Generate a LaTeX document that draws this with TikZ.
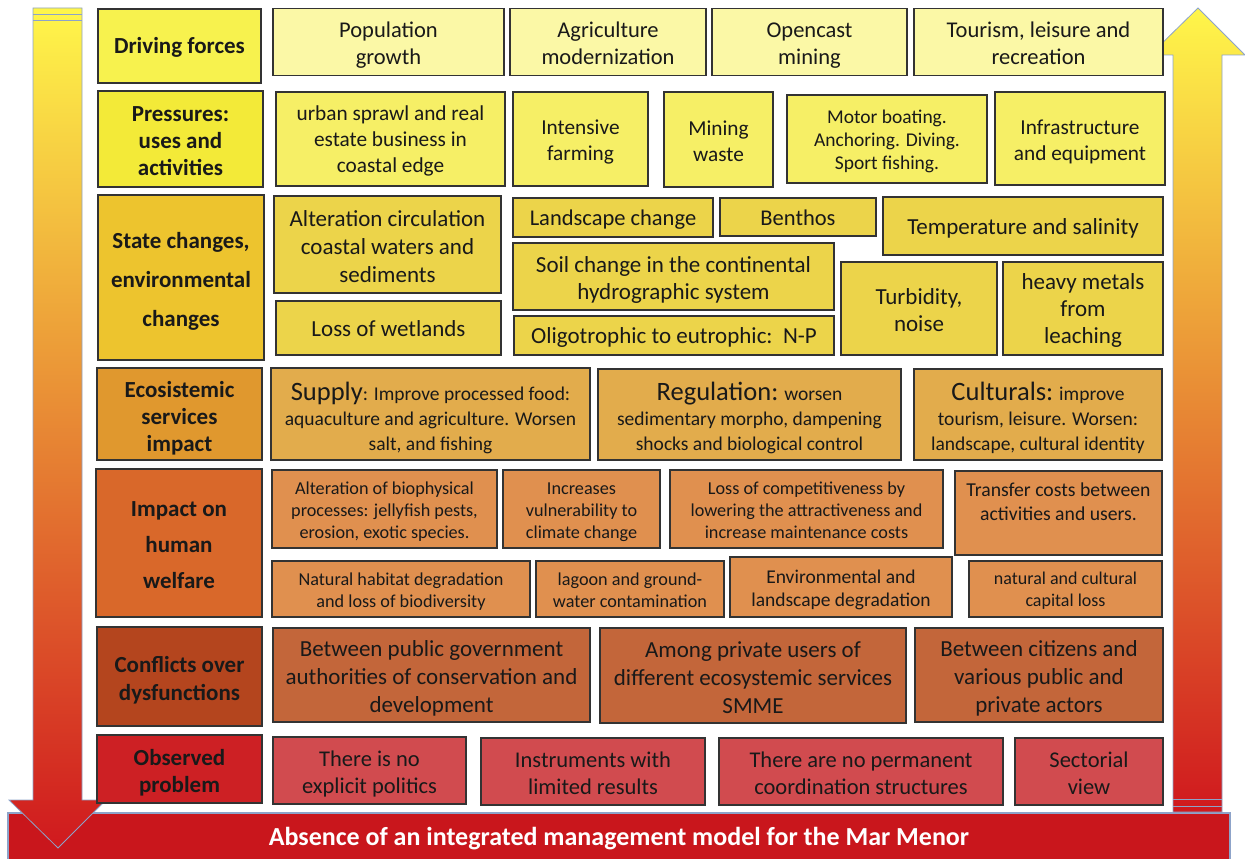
\documentclass[tikz,border=0pt]{standalone}
\usepackage{fontspec}
\setmainfont{Carlito}
\newcommand{\tp}[1][1.05em]{\rule{0pt}{#1}}
\definecolor{drvL}{HTML}{F7F24E}
\definecolor{drvC}{HTML}{FBF8A6}
\definecolor{prsL}{HTML}{F3EA38}
\definecolor{prsC}{HTML}{F6EF66}
\definecolor{staL}{HTML}{EDC42E}
\definecolor{staC}{HTML}{ECD44A}
\definecolor{ecoL}{HTML}{E0982E}
\definecolor{ecoC}{HTML}{E2AC4C}
\definecolor{impL}{HTML}{D9682A}
\definecolor{impC}{HTML}{E0904F}
\definecolor{cnfL}{HTML}{B4451E}
\definecolor{cnfC}{HTML}{C3663A}
\definecolor{obsL}{HTML}{CD2024}
\definecolor{obsC}{HTML}{D14B4F}
\definecolor{barR}{HTML}{C9161C}
\definecolor{arrY}{HTML}{FFF64A}
\definecolor{arrO}{HTML}{E48A2E}
\definecolor{arrR}{HTML}{D0191E}
\definecolor{arrE}{HTML}{8DA3C9}
\begin{document}
\begin{tikzpicture}[x=1pt,y=-1pt,
  every node/.style={draw=black!80,line width=1.2pt,align=center,inner sep=1pt,text=black!90,text depth=5pt},
  one/.style={text height=21pt},
  lab/.style={font=\bfseries\fontsize{23}{27}\selectfont},
  big/.style={font=\fontsize{22.5}{27}\selectfont},
  mid/.style={font=\fontsize{19.5}{25}\selectfont},
  small/.style={font=\fontsize{18.2}{22}\selectfont}]
\useasboundingbox (0,0) rectangle (1245,859);
% bottom bar
\node[draw=arrE,fill=barR,minimum width=1222,minimum height=50,text=white,font=\bfseries\fontsize{26}{30}\selectfont,text height=20pt,text depth=5.5pt] (bar) at (619,838) {Absence of an integrated management model for the Mar Menor};
% arrows
\shadedraw[top color=arrY,middle color=arrO,bottom color=arrR,draw=arrE,line width=0.8pt]
  (33,8) -- (82,8) -- (82,800) -- (106,800) -- (58,848) -- (9,800) -- (33,800) -- cycle;
\draw[arrE,line width=0.8pt] (33,14) -- (82,14);
\draw[arrE,line width=0.8pt] (33,20) -- (82,20);
\shadedraw[top color=arrY,middle color=arrO,bottom color=arrR,draw=arrE,line width=0.8pt]
  (1173,812) -- (1173,55) -- (1150,55) -- (1198,8) -- (1245,55) -- (1222,55) -- (1222,812) -- cycle;
\draw[arrE,line width=0.8pt] (1173,799) -- (1222,799);
\draw[arrE,line width=0.8pt] (1173,806) -- (1222,806);
% row labels
\node[lab,one,fill=drvL,minimum width=163,minimum height=74] (l1) at (179.5,46) {Driving forces};
\node[lab,fill=prsL,minimum width=165,minimum height=96] (l2) at (180.5,139) {\tp Pressures:\\uses and\\activities};
\node[lab,fill=staL,minimum width=166,minimum height=165,font=\bfseries\fontsize{23}{39}\selectfont] (l3) at (181,277.5) {\tp State changes,\\environmental\\changes};
\node[lab,fill=ecoL,minimum width=165,minimum height=92] (l4) at (179.5,414) {\tp[1.15em]Ecosistemic\\services\\impact};
\node[lab,fill=impL,minimum width=166,minimum height=148,font=\bfseries\fontsize{23}{36}\selectfont] (l5) at (179,543) {\tp Impact on\\human\\welfare};
\node[lab,fill=cnfL,minimum width=165,minimum height=99,font=\bfseries\fontsize{23}{28}\selectfont] (l6) at (179.5,676.5) {\tp Conflicts over\\dysfunctions};
\node[lab,fill=obsL,minimum width=165,minimum height=68] (l7) at (179.5,769) {\tp Observed\\problem};
% driving forces
\node[big,fill=drvC,minimum width=231,minimum height=67] (pop) at (388.5,42) {\tp Population\\growth};
\node[big,fill=drvC,minimum width=196,minimum height=67] (agr) at (608,42) {\tp Agriculture\\modernization};
\node[big,fill=drvC,minimum width=195,minimum height=67] (opc) at (809.5,42) {\tp Opencast\\mining};
\node[big,fill=drvC,minimum width=249,minimum height=67] (tou) at (1038.5,42) {\tp Tourism, leisure and\\recreation};
% pressures
\node[big,fill=prsC,minimum width=229,minimum height=94,font=\fontsize{21.3}{26}\selectfont] (urb) at (390.5,139) {\tp[0.95em]urban sprawl and real\\estate business in\\coastal edge};
\node[big,fill=prsC,minimum width=135,minimum height=94,font=\fontsize{21.3}{26}\selectfont] (int) at (580.5,139) {\tp Intensive\\farming};
\node[big,fill=prsC,minimum width=109,minimum height=95,font=\fontsize{21.3}{26}\selectfont] (mwa) at (718.5,139.5) {\tp Mining\\waste};
\node[mid,fill=prsC,minimum width=200,minimum height=88,font=\fontsize{19.5}{23}\selectfont] (mot) at (887,139) {\tp Motor boating.\\Anchoring. Diving.\\Sport fishing.};
\node[big,fill=prsC,minimum width=170,minimum height=93,font=\fontsize{21.3}{26}\selectfont] (inf) at (1080,138.5) {\tp Infrastructure\\and equipment};
% state changes
\node[big,fill=staC,minimum width=227,minimum height=97,font=\fontsize{23}{28}\selectfont] (alt) at (387.5,244.5) {\tp Alteration circulation\\coastal waters and\\sediments};
\node[big,one,fill=staC,minimum width=225,minimum height=54,font=\fontsize{23}{27}\selectfont] (wet) at (388.5,328) {Loss of wetlands};
\node[big,one,fill=staC,minimum width=200,minimum height=39,font=\fontsize{22.5}{27}\selectfont] (lsc) at (613,217.5) {Landscape change};
\node[big,one,fill=staC,minimum width=156,minimum height=38,font=\fontsize{22.5}{27}\selectfont] (ben) at (798,217) {Benthos};
\node[big,fill=staC,minimum width=321,minimum height=67,font=\fontsize{23}{27}\selectfont] (soi) at (673.5,276.5) {\tp Soil change in the continental\\hydrographic system};
\node[big,one,fill=staC,minimum width=320,minimum height=39,font=\fontsize{23}{27}\selectfont] (oli) at (674,335.5) {Oligotrophic to eutrophic:~~N-P};
\node[big,one,fill=staC,minimum width=280,minimum height=58,font=\fontsize{23}{27}\selectfont] (tem) at (1023,226) {Temperature and salinity};
\node[big,fill=staC,minimum width=156,minimum height=93,font=\fontsize{23}{27}\selectfont] (tur) at (919,308.5) {\tp Turbidity,\\noise};
\node[big,fill=staC,minimum width=160,minimum height=93,font=\fontsize{23}{27}\selectfont] (hvy) at (1083,308.5) {\tp[0.95em]heavy metals\\from\\leaching};
% ecosystem services
\node[mid,fill=ecoC,minimum width=319,minimum height=92] (sup) at (430.5,414) {\tp[27pt]{\fontsize{26.5}{25}\selectfont Supply}: Improve processed food:\\aquaculture and agriculture. Worsen\\salt, and fishing};
\node[mid,fill=ecoC,minimum width=303,minimum height=91] (reg) at (749.5,414.5) {\tp[27pt]{\fontsize{26.5}{25}\selectfont Regulation:} worsen\\sedimentary morpho, dampening\\shocks and biological control};
\node[mid,fill=ecoC,minimum width=248,minimum height=91] (cul) at (1038,414.5) {\tp[27pt]{\fontsize{26.5}{25}\selectfont Culturals:} improve\\tourism, leisure. Worsen:\\landscape, cultural identity};
% human welfare
\node[small,fill=impC,minimum width=225,minimum height=78] (bio) at (384.5,509) {\tp Alteration of biophysical\\processes: jellyfish pests,\\erosion, exotic species.};
\node[small,fill=impC,minimum width=157,minimum height=78] (vul) at (581.5,509) {\tp Increases\\vulnerability to\\climate change};
\node[small,fill=impC,minimum width=273,minimum height=78] (cmp) at (806.5,509) {\tp Loss of competitiveness by\\lowering the attractiveness and\\increase maintenance costs};
\node[mid,fill=impC,minimum width=207,minimum height=84,font=\fontsize{19.7}{24}\selectfont] (trf) at (1058.5,513) {\tp Transfer costs between\\activities and users.\\~};
\node[small,fill=impC,minimum width=258,minimum height=56] (nat) at (401,589) {\tp Natural habitat degradation\\and loss of biodiversity};
\node[small,fill=impC,minimum width=188,minimum height=56] (lag) at (630,589) {\tp lagoon and ground-\\water contamination};
\node[mid,fill=impC,minimum width=222,minimum height=60,font=\fontsize{19.5}{23}\selectfont] (env) at (841,587) {\tp Environmental and\\landscape degradation};
\node[small,fill=impC,minimum width=193,minimum height=56,font=\fontsize{18}{22}\selectfont] (cap) at (1065.5,589) {\tp natural and cultural\\capital loss};
% conflicts
\node[big,fill=cnfC,minimum width=317,minimum height=94,font=\fontsize{23}{28}\selectfont] (gov) at (431.5,675) {\tp Between public government\\authorities of conservation and\\development};
\node[big,fill=cnfC,minimum width=306,minimum height=95,font=\fontsize{23}{28}\selectfont] (prv) at (753,675.5) {\tp Among private users of\\different ecosystemic services\\SMME};
\node[big,fill=cnfC,minimum width=248,minimum height=94,font=\fontsize{23}{28}\selectfont] (cit) at (1039,675) {\tp Between citizens and\\various public and\\private actors};
% observed problems
\node[big,fill=obsC,minimum width=193,minimum height=67] (pol) at (369.5,770.5) {\tp There is no\\explicit politics};
\node[big,fill=obsC,minimum width=224,minimum height=67] (ins) at (593,771.5) {\tp Instruments with\\limited results};
\node[big,fill=obsC,minimum width=284,minimum height=67] (str) at (861,771.5) {\tp There are no permanent\\coordination structures};
\node[big,fill=obsC,minimum width=148,minimum height=67] (sec) at (1089,771.5) {\tp Sectorial\\view};
\end{tikzpicture}
\end{document}
